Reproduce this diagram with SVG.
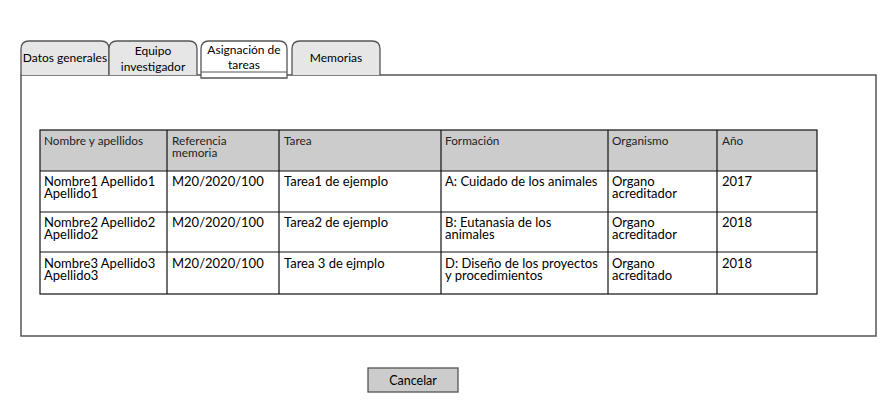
<svg xmlns="http://www.w3.org/2000/svg" width="895" height="413" viewBox="0 0 895 413">
<style>
text{font-family:Lato,"Open Sans","Liberation Sans",sans-serif;fill:#000}
.tab{fill:#e6e6e6;stroke:#555;stroke-width:1.3}
.tabsel{fill:#fff;stroke:#555;stroke-width:1.3}
.tt{font-size:12px;text-anchor:middle}
.panel{fill:#fff;stroke:#555;stroke-width:1.5}
.hd{fill:#cccccc}
.grid{stroke:#111;stroke-width:1.2;fill:none}
.ht{font-size:11.8px;fill:#222}
.bt{font-size:13px}
.btn{fill:#cccccc;stroke:#555;stroke-width:1.3}
</style>
<g id="panel"><rect class="panel" x="21" y="75" width="855" height="261"/></g>
<g id="tab-datos">
<path class="tab" d="M21,75 V49 Q21,41 29,41 H101 Q109,41 109,49 V75"/>
<text class="tt" x="65" y="62">Datos generales</text>
</g>
<g id="tab-equipo">
<path class="tab" d="M109,75 V49 Q109,41 117,41 H189 Q197,41 197,49 V75"/>
<text class="tt" x="153" y="55">Equipo</text>
<text class="tt" x="153" y="71">investigador</text>
</g>
<g id="tab-asignacion">
<path class="tabsel" d="M201,78 V49 Q201,41 209,41 H279 Q287,41 287,49 V78 Z"/>
<line x1="201" y1="72" x2="287" y2="72" stroke="#555" stroke-width="1"/>
<text class="tt" x="244" y="54">Asignación de</text>
<text class="tt" x="244" y="69">tareas</text>
</g>
<g id="tab-memorias">
<path class="tab" d="M292,75 V49 Q292,41 300,41 H372 Q380,41 380,49 V75"/>
<text class="tt" x="336" y="62">Memorias</text>
</g>
<g id="table">
<rect class="hd" x="40" y="130" width="777" height="41"/>
<rect class="grid" x="40" y="130" width="777" height="164"/>
<g class="grid">
<line x1="40" y1="171" x2="817" y2="171"/>
<line x1="40" y1="212" x2="817" y2="212"/>
<line x1="40" y1="252" x2="817" y2="252"/>
<line x1="167" y1="130" x2="167" y2="294"/>
<line x1="279" y1="130" x2="279" y2="294"/>
<line x1="441" y1="130" x2="441" y2="294"/>
<line x1="608" y1="130" x2="608" y2="294"/>
<line x1="717" y1="130" x2="717" y2="294"/>
</g>
<text class="ht" x="44" y="145">Nombre y apellidos</text>
<text class="ht" x="172" y="145">Referencia</text>
<text class="ht" x="172" y="156.5">memoria</text>
<text class="ht" x="284" y="145">Tarea</text>
<text class="ht" x="445" y="145">Formación</text>
<text class="ht" x="612" y="145">Organismo</text>
<text class="ht" x="722" y="145">Año</text>

<text class="bt" x="44" y="186">Nombre1 Apellido1</text>
<text class="bt" x="44" y="198">Apellido1</text>
<text class="bt" x="172" y="186">M20/2020/100</text>
<text class="bt" x="284" y="186">Tarea1 de ejemplo</text>
<text class="bt" x="445" y="186">A: Cuidado de los animales</text>
<text class="bt" x="612" y="186">Organo</text>
<text class="bt" x="612" y="198">acreditador</text>
<text class="bt" x="722" y="186">2017</text>

<text class="bt" x="44" y="227">Nombre2 Apellido2</text>
<text class="bt" x="44" y="239">Apellido2</text>
<text class="bt" x="172" y="227">M20/2020/100</text>
<text class="bt" x="284" y="227">Tarea2 de ejemplo</text>
<text class="bt" x="445" y="227">B: Eutanasia de los</text>
<text class="bt" x="445" y="239">animales</text>
<text class="bt" x="612" y="227">Organo</text>
<text class="bt" x="612" y="239">acreditador</text>
<text class="bt" x="722" y="227">2018</text>

<text class="bt" x="44" y="268">Nombre3 Apellido3</text>
<text class="bt" x="44" y="280">Apellido3</text>
<text class="bt" x="172" y="268">M20/2020/100</text>
<text class="bt" x="284" y="268">Tarea 3 de ejmplo</text>
<text class="bt" x="445" y="268">D: Diseño de los proyectos</text>
<text class="bt" x="445" y="280">y procedimientos</text>
<text class="bt" x="612" y="268">Organo</text>
<text class="bt" x="612" y="280">acreditado</text>
<text class="bt" x="722" y="268">2018</text>
</g>
<g id="btn-cancelar">
<rect class="btn" x="368" y="368" width="90" height="24"/>
<text x="413" y="385" font-size="12.5" text-anchor="middle">Cancelar</text>
</g>
<g id="connectors"/>
</svg>
